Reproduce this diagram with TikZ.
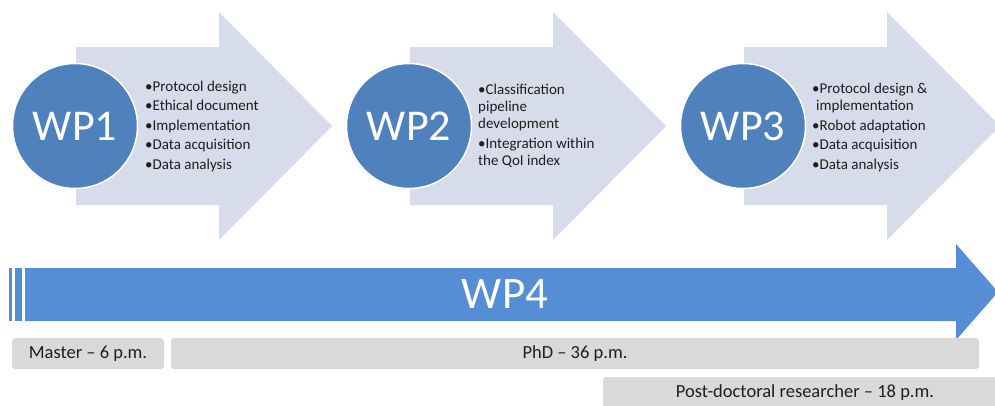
\documentclass[tikz,border=0pt]{standalone}
\usepackage{fontspec}
\setmainfont{Carlito}
\usetikzlibrary{positioning}
\definecolor{chevron}{RGB}{214,220,233}
\definecolor{wpblue}{RGB}{79,129,189}
\definecolor{barblue}{RGB}{85,142,213}
\definecolor{bargray}{RGB}{217,217,217}
\definecolor{txt}{RGB}{30,30,30}

\begin{document}
\begin{tikzpicture}[x=1pt, y=-1pt,
  chev/.style={fill=chevron},
  wp/.style={circle, fill=wpblue, draw=white, line width=1.5pt,
    minimum size=125pt, inner sep=0pt, text=white,
    font=\fontsize{44}{44}\selectfont},
  tasks/.style={anchor=west, align=left, text=txt, inner sep=0pt,
    font=\fontsize{15}{17}\selectfont},
  period/.style={fill=bargray, rounded corners=3pt, minimum height=31pt,
    inner sep=0pt, text=txt, font=\fontsize{18.5}{18.5}\selectfont}
]
  \clip (0,0) rectangle (995,405);

  \foreach \dx in {0,334,668}
    \fill[chev] (76+\dx,47) -- (219+\dx,47) -- (219+\dx,12) -- (332+\dx,126)
      -- (219+\dx,240) -- (219+\dx,205) -- (76+\dx,205) -- cycle;

  \node[wp] (wp1) at (75,126)  {WP1};
  \node[wp] (wp2) at (409,126) {WP2};
  \node[wp] (wp3) at (743,126) {WP3};

  \node[tasks] (tasks1) at (145,126) {•Protocol design\\[2.5pt]
    •Ethical document\\[2.5pt] •Implementation\\[2.5pt]
    •Data acquisition\\[2.5pt] •Data analysis};
  \node[tasks] (tasks2) at (478,126) {•Classification\\ pipeline\\
    development\\[3pt] •Integration within\\ the QoI index};
  \node[tasks] (tasks3) at (812,127) {•Protocol design \&\\
    \hspace{4pt}implementation\\[3pt] •Robot adaptation\\[2.5pt]
    •Data acquisition\\[2.5pt] •Data analysis};

  \fill[barblue] (9,268) rectangle (12,321);
  \fill[barblue] (15,268) rectangle (22,321);
  \fill[barblue] (25,268) -- (956,268) -- (956,244) -- (998,292)
    -- (956,340) -- (956,321) -- (25,321) -- cycle;
  \node[text=white, font=\fontsize{45}{45}\selectfont] (wp4) at (505,294) {WP4};

  \node[period, minimum width=152pt] (master) at (88,353.5) {Master – 6 p.m.};
  \node[period, minimum width=808pt] (phd) at (575,353.5) {PhD – 36 p.m.};
  \node[period, minimum width=404pt] (postdoc) at (805,392.5)
    {Post-doctoral researcher – 18 p.m.};
\end{tikzpicture}
\end{document}
